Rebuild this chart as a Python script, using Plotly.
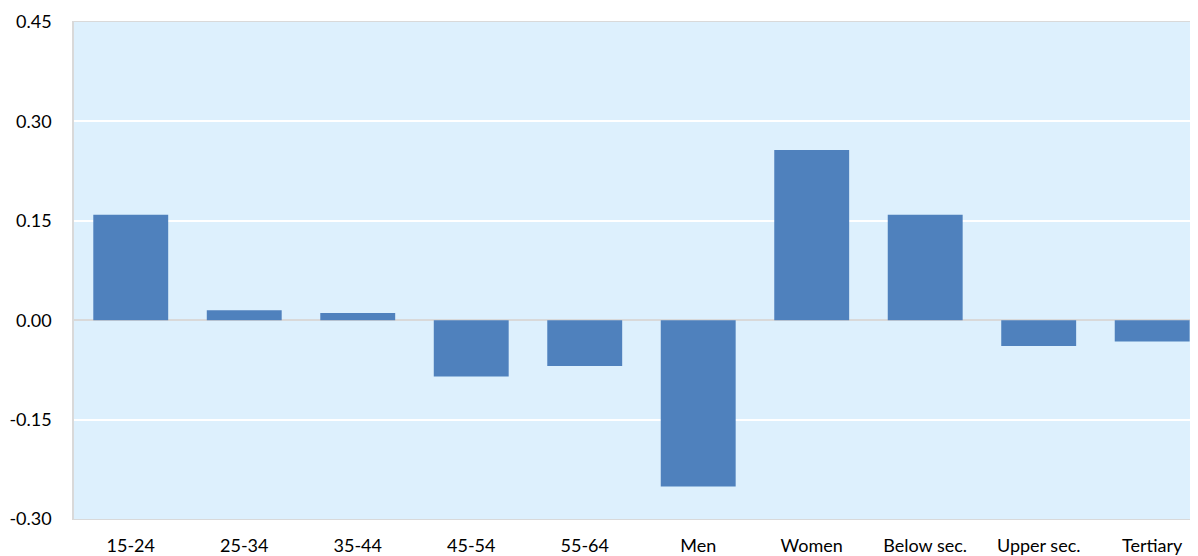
import plotly.graph_objects as go

categories = ["15-24", "25-34", "35-44", "45-54", "55-64", "Men", "Women", "Below sec.", "Upper sec.", "Tertiary"]
values = [0.159, 0.015, 0.011, -0.085, -0.069, -0.251, 0.257, 0.159, -0.039, -0.032]
y_ticks = [-0.30, -0.15, 0.00, 0.15, 0.30, 0.45]
y_tick_labels = ["-0.30", "-0.15", "0.00", "0.15", "0.30", "0.45"]

fig = go.Figure(go.Bar(
    x=list(range(len(categories))),
    y=values,
    width=0.66,
    marker=dict(color="#4f81bd", line=dict(width=0)),
))

fig.update_layout(
    width=1190, height=548,
    margin=dict(l=66, r=0, t=14, b=30),
    paper_bgcolor="white",
    plot_bgcolor="#ddf0fd",
    showlegend=False,
    font=dict(family="Lato, Open Sans, sans-serif", size=18, color="black"),
)
fig.update_xaxes(
    tickvals=list(range(len(categories))), ticktext=categories,
    range=[-0.5, 9.386], showgrid=False, zeroline=False,
    showline=True, linecolor="#d9d9d9", linewidth=1, mirror=True,
    ticks="", ticklabelstandoff=10,
)
fig.update_yaxes(
    range=[-0.30, 0.45], tickvals=y_ticks, ticktext=y_tick_labels,
    showgrid=True, gridcolor="white", gridwidth=1.5,
    zeroline=True, zerolinecolor="#d9d9d9", zerolinewidth=2,
    showline=True, linecolor="#d9d9d9", linewidth=1.5, mirror=True,
    ticks="", ticklabelstandoff=17,
)
fig.write_html("out.html")
